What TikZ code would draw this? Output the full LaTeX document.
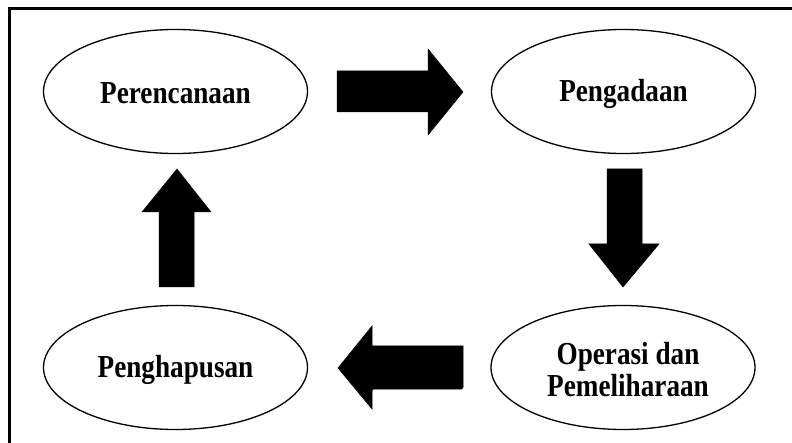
\documentclass[tikz,border=0pt]{standalone}
\usepackage{fontspec}
\newfontfamily\lblfont{Liberation Serif}[FakeStretch=0.85]
\usetikzlibrary{shapes.geometric}
\tikzset{
  oval/.style={ellipse, draw=black, line width=1.3pt, fill=white, inner sep=0pt, minimum width=264pt, minimum height=124pt},
  lbl/.style={font=\lblfont\bfseries\fontsize{32}{32}\selectfont, align=center, inner sep=0pt},
  blockarrow/.style={fill=black, draw=black, line width=0.5pt, line join=miter},
  frame/.style={draw=black, line width=3pt}
}
\begin{document}
\begin{tikzpicture}[x=1pt, y=-1pt]
\useasboundingbox (0,0) rectangle (792,443);
\fill[white] (0,0) rectangle (792,443);
% frame (only top and left edges visible)
\coordinate (fTL) at (9.5,8.5);
\coordinate (fTR) at (792,8.5);
\coordinate (fBL) at (9.5,443);
\draw[frame] (fTR) -- (fTL) -- (fBL);
% ellipses
\node[oval] (per) at (175.5,91.5) {};
\node[oval] (peng) at (623.5,91.5) {};
\node[oval] (ops) at (623,367.5) {};
\node[oval] (hap) at (175.5,367.5) {};
% labels
\node[lbl] (tper) at ([yshift=-2pt]per.center) {Perencanaan};
\node[lbl] (tpeng) at ([yshift=-2pt]peng.center) {Pengadaan};
\node[lbl] (tops) at ([xshift=5pt,yshift=-2pt]ops.center) {Operasi dan\\Pemeliharaan};
\node[lbl] (thap) at ([yshift=-2pt]hap.center) {Penghapusan};
% block arrows
\fill[blockarrow] (337,71) -- (428,71) -- (428,49) -- (463,92) -- (428,135) -- (428,112) -- (337,112) -- cycle;
\fill[blockarrow] (607,169) -- (642,169) -- (642,244) -- (659,244) -- (623,287) -- (589,244) -- (607,244) -- cycle;
\fill[blockarrow, rounded corners=1.5pt] (463,346) -- (463,389) -- (372,389) [sharp corners] -- (372,409) -- (338,368) -- (372,326) -- (372,346) -- cycle;
\fill[blockarrow] (159,287) -- (159,212) -- (142,212) -- (177,169) -- (211,212) -- (194,212) -- (194,287) -- cycle;
\end{tikzpicture}
\end{document}
